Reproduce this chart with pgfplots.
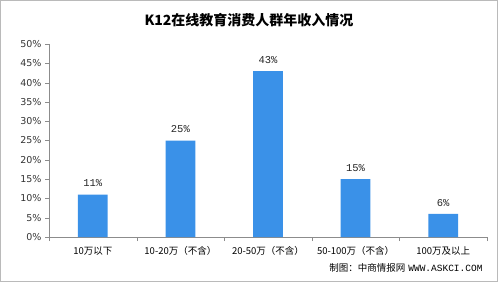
\documentclass[border=0pt]{standalone}
\usepackage{fontspec}
\usepackage{pgfplots}
\pgfplotsset{compat=1.18}
\setmainfont{DejaVu Sans}
\newfontfamily\cjk{Noto Sans CJK SC}
\newfontfamily\monof{Liberation Mono}
\definecolor{barblue}{RGB}{58,145,232}
\definecolor{axgray}{RGB}{140,140,140}
\begin{document}
\begin{tikzpicture}[x=1pt,y=1pt]
\draw[color=axgray!60, line width=1pt] (0.5,0.5) rectangle (497.5,281.5);
\useasboundingbox (0,0) rectangle (498,282);
\node[font=\cjk\bfseries\fontsize{14}{16}\selectfont] at (249,262) {K12在线教育消费人群年收入情况};
\begin{axis}[
  at={(49pt,45pt)}, anchor=south west,
  scale only axis, width=438pt, height=193pt,
  ymin=0, ymax=50, ytick={0,5,...,50},
  yticklabel={\pgfmathprintnumber{\tick}\%},
  /pgf/number format/assume math mode=true,
  xmin=-0.5, xmax=4.5,
  xtick={0,1,2,3,4},
  xticklabels={10万以下,10-20万（不含）,20-50万（不含）,50-100万（不含）,100万及以上},
  xticklabel style={font=\cjk\fontsize{9.5}{11}\selectfont, yshift=-2pt},
  minor xtick={-0.5,0.5,1.5,2.5,3.5,4.5},
  major x tick style={draw=none},
  minor tick length=4pt,
  x tick style={color=axgray},
  y tick style={color=axgray},
  major tick length=4pt,
  tick align=outside,
  tick pos=left,
  axis x line*=bottom, axis y line*=left,
  axis line style={color=axgray, line width=0.8pt},
  yticklabel style={font=\fontsize{9.5}{10}\selectfont, color=black!80},
  bar width=0.34,
  ybar,
  nodes near coords={\pgfmathprintnumber{\pgfplotspointmeta}\%},
  nodes near coords style={font=\monof\fontsize{10.5}{12}\selectfont, color=black!85, yshift=4pt},
  point meta=y,
  enlargelimits=false,
  clip=false,
]
\addplot[fill=barblue, draw=none] coordinates {(0,11) (1,25) (2,43) (3,15) (4,6)};
\end{axis}
\node[anchor=east, font=\fontsize{9.5}{11}\selectfont] at (486,14) {{\cjk 制图：中商情报网} {\monof WWW.ASKCI.COM}};
\end{tikzpicture}
\end{document}
